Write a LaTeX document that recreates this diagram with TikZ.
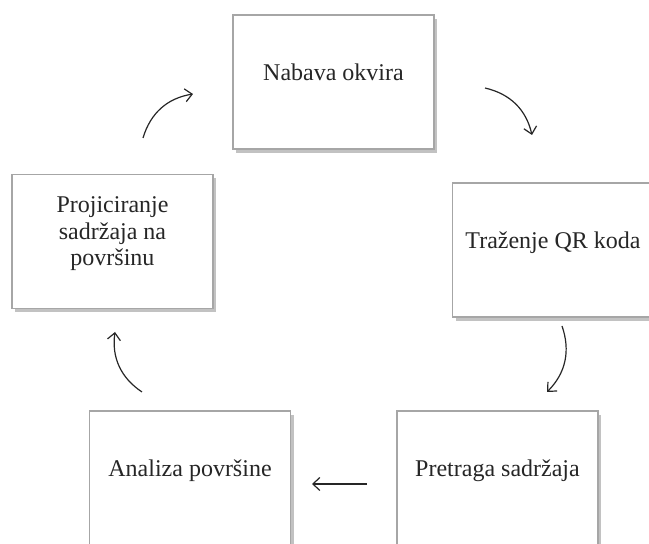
\documentclass[tikz,border=0pt]{standalone}
\usepackage{fontspec}
\setmainfont{Liberation Serif}
\usetikzlibrary{shadows,arrows.meta}

\begin{document}
\begin{tikzpicture}
  [x=1pt,y=1pt,
   every node/.style={rectangle,draw=black!35,line width=1.2pt,fill=white,
     minimum width=201pt,minimum height=134pt,align=center,text depth=20pt,
     font=\fontsize{24}{26.5}\selectfont,text=black!85,
     drop shadow={shadow xshift=3pt,shadow yshift=-4pt,opacity=.4,fill=black!60}},
   arr/.style={line width=1.2pt,black!85,-{Straight Barb[length=7pt,width=13pt]}}]
  \useasboundingbox (0,0) rectangle (649,544);

  \node (nabava) at (333.5,462) {Nabava okvira};
  \node (trazenje) at (553,294) {Traženje QR koda};
  \node (pretraga) at (497.5,66) {Pretraga sadržaja};
  \node (analiza) at (190,66) {Analiza površine};
  \node (projic) at (112.5,302.5) {Projiciranje\\sadržaja na\\površinu};

  % arrow ends
  \coordinate (a1) at (143,406);  \coordinate (b1) at (193,450);
  \coordinate (a2) at (485,456);  \coordinate (b2) at (532,409);
  \coordinate (a3) at (562,218);  \coordinate (b3) at (547,152);
  \coordinate (a4) at (367,60);   \coordinate (b4) at (312,60);
  \coordinate (a5) at (142,152);  \coordinate (b5) at (115,212);

  \foreach \from/\to/\b in {a1/b1/32,a2/b2/32,a3/b3/32,a4/b4/0,a5/b5/32}
    \draw[arr] (\from) to[bend left=\b] (\to);
\end{tikzpicture}
\end{document}
